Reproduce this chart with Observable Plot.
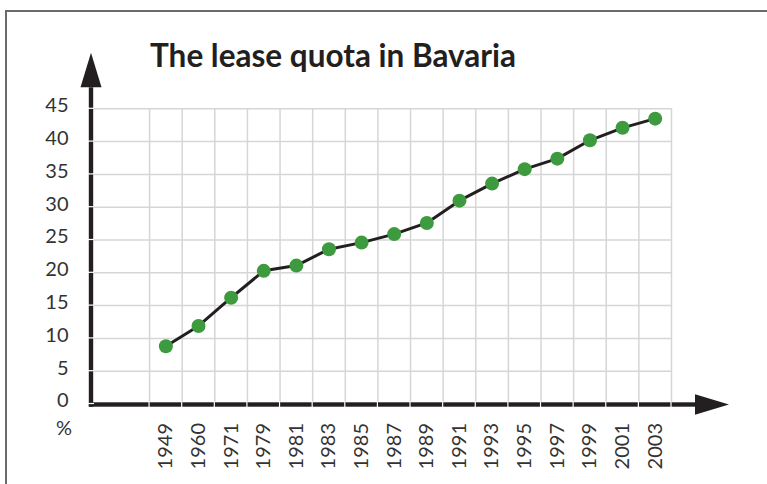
<!DOCTYPE html>
<html><head><meta charset="utf-8">
<script src="https://cdn.jsdelivr.net/npm/d3@7"></script>
<script src="https://cdn.jsdelivr.net/npm/@observablehq/plot@0.6"></script>
<style>
html,body{margin:0;padding:0;background:#fff;}
#wrap{position:relative;width:767px;height:484px;overflow:hidden;}
#border{position:absolute;left:5px;top:9.5px;width:900px;height:600px;border-top:2px solid #6b6b6b;border-left:2px solid #6b6b6b;}
#chart{position:absolute;left:0;top:0;}
</style></head><body>
<div id="wrap"><div id="border"></div><div id="chart"></div></div>
<script>
const title = "The lease quota in Bavaria";
const unitLabel = "%";
const years = ["1949","1960","1971","1979","1981","1983","1985","1987","1989","1991","1993","1995","1997","1999","2001","2003"];
const quota = [8.8, 11.9, 16.2, 20.3, 21.1, 23.6, 24.6, 25.9, 27.6, 31.0, 33.6, 35.8, 37.4, 40.2, 42.1, 43.5];
const yTicks = [0, 5, 10, 15, 20, 25, 30, 35, 40, 45];

const data = years.map((y, i) => ({i, year: y, v: quota[i]}));
const xGrid = d3.range(years.length + 1).map(i => i - 0.5);
const xDomain = [-2.28, years.length - 0.5];
const font = "Lato, 'Open Sans', sans-serif";
const gridColor = "#d6d6d6";
const ink = "#231f20";

const plot = Plot.plot({
  width: 767, height: 484,
  marginLeft: 91, marginRight: 96, marginTop: 108.3, marginBottom: 80.5,
  style: {fontFamily: font, fontSize: "20px", color: "#333", background: "transparent", overflow: "visible"},
  x: {type: "linear", domain: xDomain},
  y: {domain: [0, 45]},
  marks: [
    Plot.gridY(yTicks, {stroke: gridColor, strokeOpacity: 1, strokeWidth: 1.5}),
    Plot.ruleX(xGrid, {y1: 0, y2: 45, stroke: gridColor, strokeWidth: 1.5}),
    Plot.axisY(yTicks, {tickSize: 0, tickPadding: 23, fontSize: 20, dy: -3, label: null}),
    Plot.axisX(d3.range(years.length), {tickFormat: i => years[i], tickRotate: -90, tickSize: 0, tickPadding: 19, fontSize: 20, label: null}),
    Plot.line(data, {x: "i", y: "v", stroke: ink, strokeWidth: 3}),
    Plot.dot(data, {x: "i", y: "v", r: 7, fill: "#3e9a3e", stroke: null})
  ]
});
document.getElementById("chart").appendChild(plot);

// decorations derived from scales
const sx = plot.scale("x"), sy = plot.scale("y");
const svg = d3.select(plot);
const x0 = sx.apply(xDomain[0]);
const xEnd = sx.range[1];
const yBot = sy.apply(0);
const yTop = sy.apply(45);
const axY = yBot + 1; // x-axis center line
const g = svg.append("g");
g.append("rect").attr("x", x0 - 2.2).attr("width", 4.4).attr("y", yTop - 21).attr("height", axY + 2.2 - (yTop - 21)).attr("fill", ink);
g.append("path").attr("d", `M${x0 - 10.5},${yTop - 21}L${x0 + 10.5},${yTop - 21}L${x0},${yTop - 55.6}Z`).attr("fill", ink);
g.append("rect").attr("x", x0 - 2.2).attr("width", xEnd + 24 - (x0 - 2.2)).attr("y", axY - 2.2).attr("height", 4.4).attr("fill", ink);
g.append("path").attr("d", `M${xEnd + 24},${axY - 10.3}L${xEnd + 24},${axY + 10.3}L${xEnd + 58},${axY}Z`).attr("fill", ink);
yTicks.forEach(t => {
  g.append("line").attr("x1", x0 - 3).attr("x2", x0 + 3).attr("y1", sy.apply(t)).attr("y2", sy.apply(t)).attr("stroke", "#fff").attr("stroke-width", 1.2);
});
xGrid.forEach(t => {
  g.append("line").attr("x1", sx.apply(t)).attr("x2", sx.apply(t)).attr("y1", axY - 3).attr("y2", axY + 3).attr("stroke", "#fff").attr("stroke-width", 1.2);
});
svg.selectAll("g[aria-label='line'], g[aria-label='dot']").raise();
svg.append("text").attr("x", 150).attr("y", yTop - 41.6).attr("text-anchor", "start").attr("font-family", font).attr("font-weight", 700).attr("font-size", 31.5).attr("fill", ink).text(title);
svg.append("text").attr("x", x0 - 27).attr("y", yBot + 31).attr("text-anchor", "middle").attr("font-family", font).attr("font-size", 20).attr("fill", "#333").text(unitLabel);
</script>
</body></html>
